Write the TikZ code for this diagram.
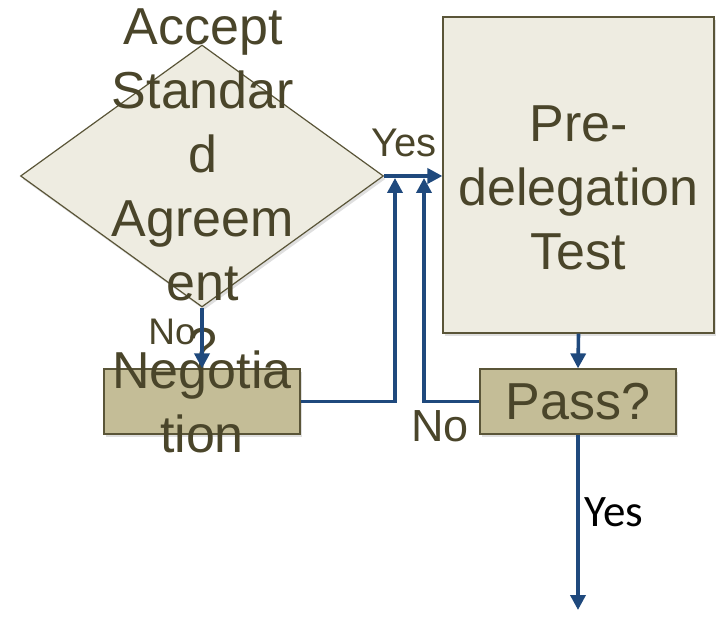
\documentclass[tikz,border=0pt]{standalone}
\usepackage{fontspec}
\setmainfont{Liberation Sans}
\newfontfamily\calibrifont{Carlito}
\usetikzlibrary{shapes.geometric, arrows.meta, positioning, shadows}
\definecolor{textolive}{HTML}{4A452A}
\definecolor{lineolive}{HTML}{5A5538}
\definecolor{paletan}{HTML}{EEECE1}
\definecolor{darktan}{HTML}{C4BD97}
\definecolor{flowblue}{HTML}{1F497D}
\tikzstyle{decision} = [diamond, minimum width=363pt, minimum height=262pt, inner sep=0pt, draw=lineolive, fill=paletan, line width=1.2pt, drop shadow={opacity=0.25, shadow xshift=2pt, shadow yshift=-3pt}]
\tikzstyle{palebox} = [rectangle, inner sep=0pt, draw=lineolive, fill=paletan, line width=1.2pt, drop shadow={opacity=0.25, shadow xshift=2pt, shadow yshift=-3pt}]
\tikzstyle{tanbox} = [rectangle, minimum width=196pt, minimum height=65pt, inner sep=0pt, draw=lineolive, fill=darktan, line width=1.2pt, drop shadow={opacity=0.25, shadow xshift=2pt, shadow yshift=-3pt}]
\tikzstyle{bigtext} = [text=textolive, font=\fontsize{52}{64}\selectfont, align=center, inner sep=0pt]
\tikzstyle{answer} = [text=textolive, inner sep=0pt, anchor=base]
\tikzstyle{flow} = [draw=flowblue, line width=3.6pt, -{Triangle[length=15pt, width=15pt]}]

\begin{document}
\begin{tikzpicture}[x=1pt, y=1pt]
\useasboundingbox (0,0) rectangle (717,629);
% shapes
\node (accept) [decision] at (202,453) {};
\node (predel) [palebox, minimum width=271pt, minimum height=316pt] at (578.5,454) {};
\node (nego) [tanbox] at (202,227.5) {};
\node (pass) [tanbox, bigtext] at (578,227.5) {Pass?};

% texts running over the shapes
\node (accepttext) [bigtext, anchor=north] at (203,620) {Accept\\Standar\\d\\Agreem\\ent\\?};
\node (predeltext) [bigtext, anchor=north] at (578.5,523) {Pre-\\delegation\\Test};
\node (negotext) [bigtext, anchor=north] at (202,278) {Negotia\\tion};

% loose ends
\coordinate (join1) at (395,451);
\coordinate (join2) at (424,451);
\coordinate (out) at (578,19);

\draw[flow] (accept.east) -- (accept.east -| predel.west);
\draw[flow] (accept.south) -- (nego.north);
\draw[flow] (nego.east) -| (join1);
\draw[flow] (pass.west) -| (join2);
\draw[flow] (predel.south) -- (pass.north);
\draw[flow] (pass.south) -- (out);

\node (yes1) [answer, font=\fontsize{40}{48}\selectfont] at (404,472) {Yes};
\node (no1) [answer, font=\fontsize{37}{44}\selectfont] at (172,284) {No};
\node (no2) [answer, font=\fontsize{45}{54}\selectfont] at (440,187) {No};
\node (yes2) [answer, text=black, font=\calibrifont\fontsize{45}{54}\selectfont] at (614,102) {Yes};
\end{tikzpicture}
\end{document}
